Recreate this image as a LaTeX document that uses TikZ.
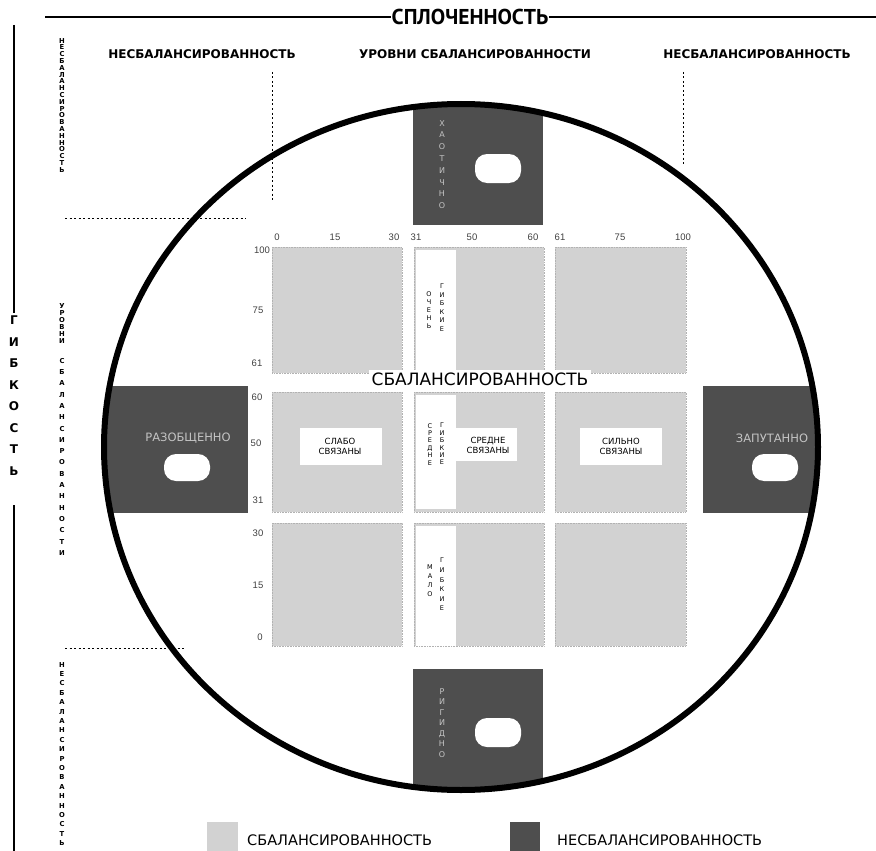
\documentclass[tikz,border=0pt]{standalone}
\usepackage{fontspec}
\setmainfont{DejaVu Sans}
\newfontfamily\hd{PT Sans}
\newfontfamily\ar{Liberation Sans}
\definecolor{lightc}{HTML}{D2D2D2}
\definecolor{darkc}{HTML}{4E4E4E}
\definecolor{dtext}{HTML}{C4C4C4}
\definecolor{numc}{HTML}{404040}
\ExplSyntaxOn
\NewDocumentCommand\vstk{mm}{\vbox{\baselineskip=#1\lineskiplimit=-\maxdimen\lineskip=0pt \tl_map_inline:nn{#2}{\hbox_to_wd:nn{2em}{\hss##1\hss}}}}
\ExplSyntaxOff
\tikzset{
  cell/.style={fill=lightc, draw=gray!60, densely dotted, line width=0.6pt},
  darkbox/.style={fill=darkc},
  hole/.style={fill=white, rounded corners=12pt},
  dotl/.style={line width=1pt, dash pattern=on 2pt off 2.5pt},
  hdr/.style={font=\bfseries\fontsize{12}{13}\selectfont, inner sep=1pt},
  side/.style={font=\bfseries\fontsize{6.8}{7}\selectfont, inner sep=0pt, anchor=north},
  num/.style={font=\ar\fontsize{9.5}{10}\selectfont, text=numc, inner sep=0pt},
  strip/.style={font=\fontsize{6.5}{7}\selectfont, inner sep=0pt, anchor=north},
  lbl/.style={font=\fontsize{8.5}{10}\selectfont, align=center, inner sep=0pt},
  dlbl/.style={font=\fontsize{11.5}{12}\selectfont, text=dtext, inner sep=0pt},
  lgd/.style={font=\fontsize{14.5}{15}\selectfont, anchor=west, inner sep=0pt},
}
\begin{document}
\begin{tikzpicture}[x=1pt,y=-1pt]
\useasboundingbox (0,0) rectangle (876,851);
% header
\draw[line width=2.5pt] (45,17) -- (876,17);
\node[font=\hd\bfseries\fontsize{21.5}{22}\selectfont, fill=white, inner sep=1pt] (coh) at (470,17) {СПЛОЧЕННОСТЬ};
% left axis
\draw[line width=2.5pt] (14,25) -- (14,313);
\draw[line width=2.5pt] (14,505) -- (14,851);
\node[font=\bfseries\fontsize{12}{12}\selectfont, inner sep=0pt, anchor=north] (flex) at (14,316) {\vstk{21.5pt}{ГИБКОСТЬ}};
% side labels
\node[side] (s1) at (62,38) {\vstk{6.8pt}{НЕСБАЛАНСИРОВАННОСТЬ}};
\node[side] (s2) at (62,303) {\vstk{7pt}{УРОВНИ}};
\node[side] (s3) at (62,358) {\vstk{11.3pt}{СБАЛАНСИРОВАННОСТИ}};
\node[side] (s4) at (62,662) {\vstk{9.4pt}{НЕСБАЛАНСИРОВАННОСТЬ}};
% headings
\node[hdr] (h1) at (202,54) {НЕСБАЛАНСИРОВАННОСТЬ};
\node[hdr] (h2) at (475,54) {УРОВНИ СБАЛАНСИРОВАННОСТИ};
\node[hdr] (h3) at (757,54) {НЕСБАЛАНСИРОВАННОСТЬ};
% dotted lines
\draw[dotl] (272,72) -- (272,200);
\draw[dotl] (683,72) -- (683,165);
\draw[dotl] (65,218) -- (246,218);
\draw[dotl] (65,648) -- (185,648);
% dark boxes
\begin{scope}
\clip (461,447) ellipse [x radius=357, y radius=343];
\fill[darkbox] (413,90) rectangle (543,225);
\fill[darkbox] (413,669) rectangle (543,850);
\fill[darkbox] (90,386) rectangle (248,513);
\fill[darkbox] (703,386) rectangle (840,513);
\end{scope}
\fill[hole] (475,154) rectangle (521,183);
\fill[hole] (475,718) rectangle (521,747);
\fill[hole] (164,454) rectangle (210,481);
\fill[hole] (752,454) rectangle (798,481);
\node[dlbl, anchor=north, font=\fontsize{8}{8}\selectfont] (chaos) at (442,120) {\vstk{11.8pt}{ХАОТИЧНО}};
\node[dlbl, anchor=north, font=\fontsize{8}{8}\selectfont] (rigid) at (442,688) {\vstk{10.5pt}{РИГИДНО}};
\node[dlbl] (dis) at (188,438) {РАЗОБЩЕННО};
\node[dlbl] (enm) at (772,438) {ЗАПУТАННО};
% circle
\draw[line width=6pt] (461,447) ellipse [x radius=357, y radius=343];
% cells
\foreach \xa/\xb in {272/402,414/544,555/686}{
  \foreach \ya/\yb in {247/373,392/512,523/646}{
    \draw[cell] (\xa,\ya) rectangle (\xb,\yb);
  }
}
% strips
\fill[white] (416,250) rectangle (456,370);
\fill[white] (416,395) rectangle (456,509);
\fill[white] (416,526) rectangle (456,646);
\node[strip] (t1a) at (429,291) {\vstk{8.2pt}{ОЧЕНЬ}};
\node[strip] (t1b) at (442,284) {\vstk{8.5pt}{ГИБКИЕ}};
\node[strip] (t2a) at (430,423) {\vstk{7.4pt}{СРЕДНЕ}};
\node[strip] (t2b) at (442,423) {\vstk{7.4pt}{ГИБКИЕ}};
\node[strip] (t3a) at (430,565) {\vstk{9pt}{МАЛО}};
\node[strip] (t3b) at (442,558) {\vstk{9.6pt}{ГИБКИЕ}};
% label boxes
\fill[white] (300,428) rectangle (382,465);
\fill[white] (456,428) rectangle (517,461);
\fill[white] (580,428) rectangle (662,465);
\node[lbl] (l1) at (340,446) {СЛАБО\\СВЯЗАНЫ};
\node[lbl] (l2) at (488,445) {СРЕДНЕ\\СВЯЗАНЫ};
\node[lbl] (l3) at (621,446) {СИЛЬНО\\СВЯЗАНЫ};
% balance label
\node[fill=white, font=\fontsize{17}{18}\selectfont, inner sep=3pt] (bal) at (480,379) {СБАЛАНСИРОВАННОСТЬ};
% numbers top
\foreach \x/\t in {277/0,335/15,394/30,416/31,472/50,533/60,560/61,620/75,683/100}{
  \node[num] at (\x,237) {\t};
}
% numbers left
\foreach \y/\t/\x in {250/100/262,310/75/258,363/61/257,397/60/257,443/50/256,500/31/258,533/30/258,585/15/258,637/0/260}{
  \node[num] at (\x,\y) {\t};
}
% legend
\fill[lightc] (207,822) rectangle (238,851);
\fill[darkc] (510,822) rectangle (540,851);
\node[lgd] (lg1) at (247,840) {СБАЛАНСИРОВАННОСТЬ};
\node[lgd] (lg2) at (557,840) {НЕСБАЛАНСИРОВАННОСТЬ};
\end{tikzpicture}
\end{document}
